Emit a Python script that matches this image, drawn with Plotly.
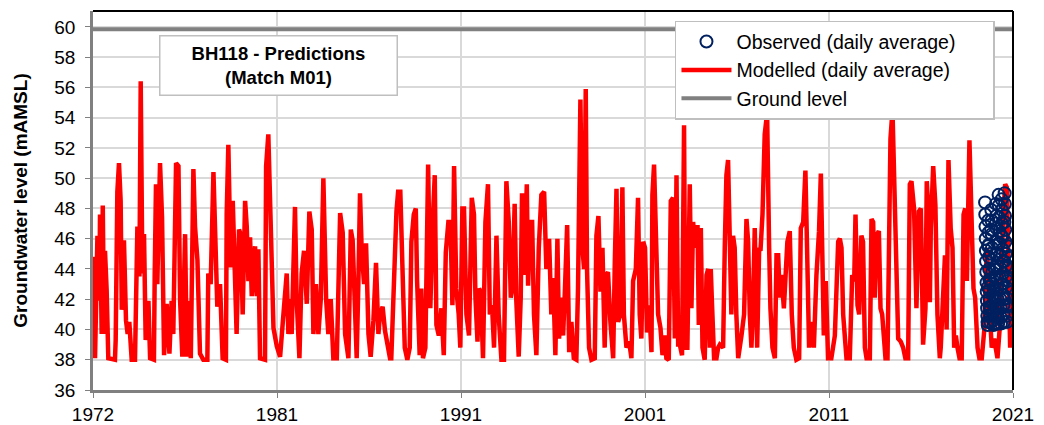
import plotly.graph_objects as go
import pandas as pd
from datetime import datetime

FONT = "Liberation Sans, Arial, sans-serif"

# Modelled groundwater level (daily average) - key points (decimal year, mAMSL)
model_years = [
    1972.00, 1972.11, 1972.24, 1972.34, 1972.38, 1972.47, 1972.53, 1972.60, 1972.65, 1972.74, 1972.83,
    1973.19, 1973.23, 1973.32, 1973.41, 1973.50, 1973.56, 1973.68, 1973.79, 1973.88, 1973.97,
    1974.10, 1974.28, 1974.34, 1974.41, 1974.52, 1974.59, 1974.68, 1974.77, 1974.86,
    1975.01, 1975.10, 1975.31, 1975.35, 1975.42, 1975.49, 1975.64, 1975.75, 1975.86,
    1976.00, 1976.15, 1976.27, 1976.36, 1976.51, 1976.64, 1976.73, 1976.85,
    1977.00, 1977.09, 1977.18, 1977.31, 1977.45, 1977.54, 1977.67, 1977.81, 1977.99,
    1978.21, 1978.26, 1978.39, 1978.54, 1978.63, 1978.75, 1978.90,
    1979.04, 1979.22, 1979.26, 1979.35, 1979.48, 1979.59, 1979.68, 1979.80, 1979.93,
    1980.02, 1980.13, 1980.26, 1980.35, 1980.44, 1980.53, 1980.62, 1980.80, 1980.89, 1980.98,
    1981.07, 1981.34, 1981.40, 1981.52, 1981.65, 1981.80, 1981.98,
    1982.16, 1982.34, 1982.52, 1982.61, 1982.70, 1982.79, 1982.97,
    1983.06, 1983.21, 1983.33, 1983.46, 1983.61, 1983.75, 1983.88, 1983.97,
    1984.11, 1984.24, 1984.37, 1984.51, 1984.66, 1984.78, 1984.91,
    1985.05, 1985.24, 1985.42, 1985.56, 1985.69, 1985.87,
    1986.00, 1986.10, 1986.23, 1986.32, 1986.41, 1986.50, 1986.59, 1986.72, 1986.83, 1986.96,
    1987.08, 1987.23, 1987.37, 1987.50, 1987.59, 1987.73, 1987.86, 1987.99,
    1988.13, 1988.20, 1988.39, 1988.48, 1988.57, 1988.69, 1988.80, 1988.93,
    1989.07, 1989.20, 1989.29, 1989.42, 1989.53, 1989.60, 1989.74, 1989.83, 1989.92,
    1990.05, 1990.20, 1990.32, 1990.43, 1990.56, 1990.65, 1990.78, 1990.92,
    1991.05, 1991.16, 1991.30, 1991.41, 1991.52, 1991.61, 1991.73, 1991.86, 1991.95,
    1992.06, 1992.15, 1992.28, 1992.42, 1992.57, 1992.69, 1992.77, 1992.88, 1992.97,
    1993.06, 1993.18, 1993.31, 1993.45, 1993.55, 1993.67, 1993.78, 1993.91,
    1994.03, 1994.18, 1994.32, 1994.45, 1994.58, 1994.69, 1994.78, 1994.90, 1994.99,
    1995.12, 1995.23, 1995.30, 1995.41, 1995.56, 1995.63, 1995.74, 1995.85, 1995.95,
    1996.08, 1996.21, 1996.35, 1996.50, 1996.62, 1996.77, 1996.89, 1996.99,
    1997.11, 1997.22, 1997.31, 1997.44, 1997.53, 1997.62, 1997.75, 1997.86, 1997.98,
    1998.11, 1998.25, 1998.34, 1998.47, 1998.58, 1998.67, 1998.76, 1998.83, 1998.94,
    1999.07, 1999.25, 1999.34, 1999.45, 1999.56, 1999.67, 1999.79, 1999.88, 1999.97,
    2000.10, 2000.25, 2000.34, 2000.43, 2000.52, 2000.64, 2000.75, 2000.83, 2000.97,
    2001.12, 2001.24, 2001.33, 2001.48, 2001.60, 2001.69, 2001.78, 2001.88, 2001.98,
    2002.09, 2002.20, 2002.33, 2002.38, 2002.47, 2002.60, 2002.69, 2002.82, 2002.93,
    2003.05, 2003.14, 2003.27, 2003.38, 2003.50, 2003.60, 2003.69, 2003.78, 2003.87, 2003.99,
    2004.10, 2004.17, 2004.28, 2004.41, 2004.50, 2004.59, 2004.72, 2004.83, 2004.90,
    2005.01, 2005.10, 2005.22, 2005.32, 2005.41, 2005.50, 2005.55, 2005.62, 2005.73, 2005.86, 2005.95,
    2006.04, 2006.22, 2006.31, 2006.40, 2006.49, 2006.58, 2006.67, 2006.76, 2006.85, 2006.94,
    2007.04, 2007.22, 2007.36, 2007.49, 2007.58, 2007.67, 2007.76, 2007.85, 2007.94,
    2008.07, 2008.18, 2008.25, 2008.36, 2008.48, 2008.61, 2008.72, 2008.79, 2008.90,
    2009.03, 2009.12, 2009.21, 2009.30, 2009.39, 2009.52, 2009.62, 2009.71, 2009.84, 2009.95,
    2010.06, 2010.20, 2010.35, 2010.44, 2010.57, 2010.69, 2010.78, 2010.89,
    2011.02, 2011.15, 2011.29, 2011.43, 2011.53, 2011.62, 2011.69, 2011.80, 2011.92,
    2012.10, 2012.29, 2012.47, 2012.56, 2012.65, 2012.74, 2012.92,
    2013.10, 2013.23, 2013.34, 2013.41, 2013.52, 2013.61, 2013.73, 2013.82, 2013.92,
    2014.01, 2014.19, 2014.28, 2014.37, 2014.46, 2014.55, 2014.68, 2014.77, 2014.86, 2014.97,
    2015.04, 2015.15, 2015.22, 2015.31, 2015.42, 2015.54, 2015.63, 2015.73, 2015.87,
    2016.00, 2016.12, 2016.27, 2016.36, 2016.45, 2016.59, 2016.72, 2016.85, 2016.96,
    2017.08, 2017.21, 2017.28, 2017.36, 2017.45, 2017.50, 2017.63, 2017.75, 2017.86, 2017.99,
    2018.04, 2018.15, 2018.27, 2018.36, 2018.46, 2018.58, 2018.68, 2018.77, 2018.86, 2018.95,
    2019.06, 2019.18, 2019.28, 2019.37, 2019.46, 2019.60, 2019.73, 2019.82, 2019.91,
    2020.04, 2020.14, 2020.27, 2020.40, 2020.54, 2020.69, 2020.81, 2020.94,
    2021.05, 2021.12, 2021.23, 2021.30, 2021.41, 2021.54, 2021.63, 2021.72, 2021.81, 2021.88,
]
model_levels = [
    44.8, 38.1, 46.2, 41.9, 47.6, 39.7, 48.2, 39.7, 45.2, 42.6, 38.1,
    38.0, 39.3, 49.1, 51.0, 48.5, 41.3, 45.9, 40.6, 39.7, 40.5,
    38.0, 38.0, 42.2, 46.8, 43.5, 56.4, 43.7, 46.3, 39.3,
    41.9, 38.1, 38.0, 43.5, 49.6, 43.0, 51.0, 47.4, 38.3,
    41.7, 38.4, 41.9, 39.7, 51.0, 50.8, 41.9, 38.2,
    46.3, 38.2, 41.9, 38.1, 50.6, 46.8, 44.6, 38.4, 38.0,
    38.0, 43.7, 43.0, 50.4, 46.3, 41.5, 43.0,
    38.1, 38.0, 47.6, 52.2, 44.1, 48.5, 44.1, 39.7, 46.6,
    46.3, 41.0, 48.5, 46.8, 43.2, 46.1, 42.2, 45.5, 42.2, 45.3,
    38.1, 38.0, 50.8, 52.9, 46.3, 40.1, 38.9,
    38.2, 41.0, 43.7, 39.7, 42.0, 39.7, 48.1,
    42.0, 38.1, 43.7, 45.2, 41.7, 47.8, 46.6, 39.7,
    43.0, 39.7, 42.0, 50.0, 42.0, 39.7, 42.0,
    38.1, 38.1, 47.7, 46.4, 39.7, 38.1,
    46.6, 45.9, 39.7, 38.1, 43.0, 49.0, 45.3, 43.0, 45.7, 39.7,
    38.2, 40.6, 44.4, 39.7, 41.0, 41.5, 39.9, 38.9,
    38.1, 38.1, 46.2, 47.8, 49.1, 49.1, 44.3, 38.8,
    38.0, 38.8, 45.8, 47.6, 48.0, 43.2, 38.3, 42.7, 38.1,
    38.8, 50.9, 41.4, 46.5, 50.2, 40.3, 39.6, 41.4,
    38.3, 45.1, 47.1, 47.1, 41.6, 50.8, 42.7, 41.0, 38.8,
    48.0, 48.0, 41.0, 39.6, 48.7, 47.6, 42.1, 39.2, 42.7,
    42.5, 38.1, 47.1, 49.6, 41.0, 41.6, 38.8, 46.2,
    41.0, 38.0, 38.0, 49.8, 47.1, 42.1, 42.7, 48.3, 41.9,
    38.2, 42.1, 49.0, 43.6, 49.6, 42.9, 47.1, 47.1, 41.0,
    38.3, 45.4, 48.9, 49.1, 44.0, 46.0, 41.0, 43.4,
    38.3, 46.0, 39.4, 42.1, 39.6, 42.3, 46.9, 38.5, 40.5,
    38.1, 38.0, 42.7, 55.2, 45.4, 44.0, 55.9, 44.0, 38.8,
    38.0, 38.1, 46.2, 47.5, 42.5, 45.4, 38.8, 43.6, 43.8,
    40.5, 38.1, 44.5, 49.3, 40.5, 41.0, 49.4, 41.0, 38.8,
    39.2, 38.1, 43.2, 44.0, 48.7, 41.0, 39.4, 45.8, 45.4,
    39.8, 41.6, 38.5, 48.9, 50.9, 45.4, 41.0, 40.1, 38.3,
    39.6, 38.1, 38.0, 48.5, 48.7, 39.4, 50.2, 39.0, 39.0, 38.3,
    53.5, 38.8, 38.8, 49.6, 41.4, 47.1, 45.4, 46.9, 40.3,
    46.7, 38.8, 38.0, 43.6, 44.0, 38.8, 44.0, 41.6, 38.1, 38.1, 38.8,
    39.0, 38.8, 45.4, 50.2, 51.2, 45.4, 41.0, 46.2, 45.4, 41.0,
    38.1, 39.6, 41.0, 47.3, 45.8, 41.0, 38.8, 41.8, 46.7,
    38.8, 45.4, 45.2, 47.6, 52.9, 54.3, 45.4, 41.4, 38.8,
    38.1, 44.9, 44.9, 42.1, 43.6, 41.4, 43.2, 45.8, 46.5, 41.0,
    38.8, 38.0, 38.1, 46.7, 47.1, 50.5, 45.4, 38.8,
    40.5, 38.8, 43.6, 46.5, 50.3, 45.4, 39.6, 43.2, 38.1,
    38.1, 39.6, 45.8, 46.0, 45.4, 41.0, 38.1,
    38.1, 43.6, 43.2, 47.6, 41.6, 41.0, 46.2, 45.8, 38.8,
    38.1, 38.1, 47.3, 47.1, 42.1, 46.2, 46.5, 41.4, 41.0, 39.2,
    38.1, 38.1, 44.5, 52.6, 54.5, 47.6, 44.5, 39.4, 39.2,
    38.8, 38.1, 38.1, 49.6, 49.8, 48.0, 41.4, 47.8, 48.0,
    39.0, 41.4, 49.8, 48.0, 41.8, 46.7, 50.8, 48.2, 41.0, 38.1,
    38.8, 41.8, 44.9, 40.0, 51.2, 46.7, 45.4, 38.8, 39.6, 38.8,
    38.1, 38.1, 47.6, 48.0, 43.2, 52.5, 47.6, 42.7, 42.1,
    38.8, 38.1, 38.1, 39.9, 45.4, 41.4, 38.8, 39.4,
    38.8, 38.1, 39.9, 41.0, 47.1, 49.6, 49.4, 43.2, 38.8, 44.4,
]

# Observed groundwater level (daily average), one reading every 4 days from the start date
obs_start = "2020-06-13"
obs_levels = [
    48.4, 47.6, 46.8, 46.0, 45.2, 44.5, 43.8, 43.1, 42.5, 41.9, 41.4, 40.9, 40.5, 40.3,
    42.8, 45.5, 47.2, 46.4, 45.6, 44.8, 44.0, 43.3, 42.6, 42.0, 41.4, 40.9, 40.5,
    41.5, 43.2, 45.0, 46.6, 47.9, 47.2, 46.3, 45.4, 44.6, 43.8, 43.0, 42.3, 41.7, 41.1, 40.6, 40.3,
    41.2, 42.6, 44.1, 43.5, 42.8, 42.1, 41.5, 40.9, 40.4,
    44.0, 47.0, 48.3, 47.5, 46.7, 45.8, 45.0, 44.2, 43.4, 42.7, 42.0, 41.4, 40.8, 40.4,
    45.6, 48.9, 48.2, 47.4, 46.5, 45.7, 44.9, 44.1, 43.4, 42.7, 42.0, 41.4, 40.8, 40.4,
    43.0, 46.2, 48.6, 47.9, 47.0, 46.1, 45.3, 44.5, 43.7, 43.0, 42.3, 41.6, 41.0, 40.5,
    42.0, 44.5, 47.1, 49.0, 48.3, 47.5, 46.6, 45.8, 45.0, 44.2, 43.5, 42.8, 42.1, 41.5, 40.9, 40.5,
    41.6, 43.2, 45.5, 44.8, 44.1,
]

ground_level = 59.85
x_start = "1972-01-01"
x_end = "2021-12-19"
tick_labels = ["1972", "1981", "1991", "2001", "2011", "2021"]
y_ticks = list(range(36, 61, 2))


def dec_to_dt(y):
    yr = int(y)
    a = datetime(yr, 1, 1)
    b = datetime(yr + 1, 1, 1)
    return a + (b - a) * (y - yr)


model_dates = [dec_to_dt(y) for y in model_years]
obs_dates = pd.date_range(obs_start, periods=len(obs_levels), freq="4D")
tick_dates = [pd.Timestamp(x_start) + pd.Timedelta(days=3650 * k) for k in range(len(tick_labels))]

fig = go.Figure()

fig.add_trace(go.Scatter(
    x=[x_start, x_end], y=[ground_level, ground_level], mode="lines",
    line=dict(color="#808080", width=4), name="Ground level", legendrank=3,
))
fig.add_trace(go.Scatter(
    x=model_dates, y=model_levels, mode="lines",
    line=dict(color="#FF0000", width=4.5), name="Modelled (daily average)", legendrank=2,
))
fig.add_trace(go.Scatter(
    x=obs_dates, y=obs_levels, mode="markers",
    marker=dict(symbol="circle-open", size=12, color="#002060", line=dict(width=2, color="#002060")),
    name="Observed (daily average)&nbsp;&nbsp;&nbsp;&nbsp;&nbsp;&nbsp;", legendrank=1,
))

fig.update_layout(
    width=1044, height=425,
    margin=dict(l=85, r=39, t=3, b=43),
    paper_bgcolor="white", plot_bgcolor="white",
    font=dict(family=FONT, size=19, color="black"),
    showlegend=True,
    legend=dict(
        x=0.9804, xanchor="right", y=0.974, yanchor="top",
        bgcolor="white", bordercolor="#bfbfbf", borderwidth=1.5,
        font=dict(family=FONT, size=19.5, color="black"),
        tracegroupgap=0, itemwidth=50,
    ),
    xaxis=dict(
        type="date", range=[x_start, x_end],
        tickvals=tick_dates, ticktext=tick_labels,
        showgrid=True, gridcolor="#d9d9d9", gridwidth=1.5,
        showline=True, linecolor="#808080", linewidth=2.5,
        ticks="outside", ticklen=5, tickcolor="#808080",
        tickfont=dict(family=FONT, size=19, color="black"),
        zeroline=False,
    ),
    yaxis=dict(
        range=[36, 61.05], tickvals=y_ticks,
        showgrid=True, gridcolor="#d9d9d9", gridwidth=1.5,
        showline=True, linecolor="#808080", linewidth=2.5,
        ticks="outside", ticklen=5, tickcolor="#808080",
        tickfont=dict(family=FONT, size=19, color="black"),
        ticklabelstandoff=6,
        zeroline=False,
        title=dict(text="<b>Groundwater level (mAMSL)</b>", font=dict(family=FONT, size=19, color="black"), standoff=22),
    ),
    shapes=[
        dict(type="line", xref="paper", yref="paper", x0=0, x1=1, y0=1, y1=1, line=dict(color="black", width=2)),
        dict(type="line", xref="paper", yref="paper", x0=1, x1=1, y0=0, y1=1, line=dict(color="black", width=2)),
    ],
    annotations=[
        dict(
            text="<b>BH118 - Predictions</b><br><b>(Match M01)</b>",
            xref="paper", yref="paper", x=0.2016, y=0.855, xanchor="center", yanchor="middle",
            showarrow=False, font=dict(family=FONT, size=18.5, color="black"),
            bgcolor="white", bordercolor="#bfbfbf", borderwidth=1.5, borderpad=0,
            width=236, height=58,
        )
    ],
)

fig.write_html("out.html")
